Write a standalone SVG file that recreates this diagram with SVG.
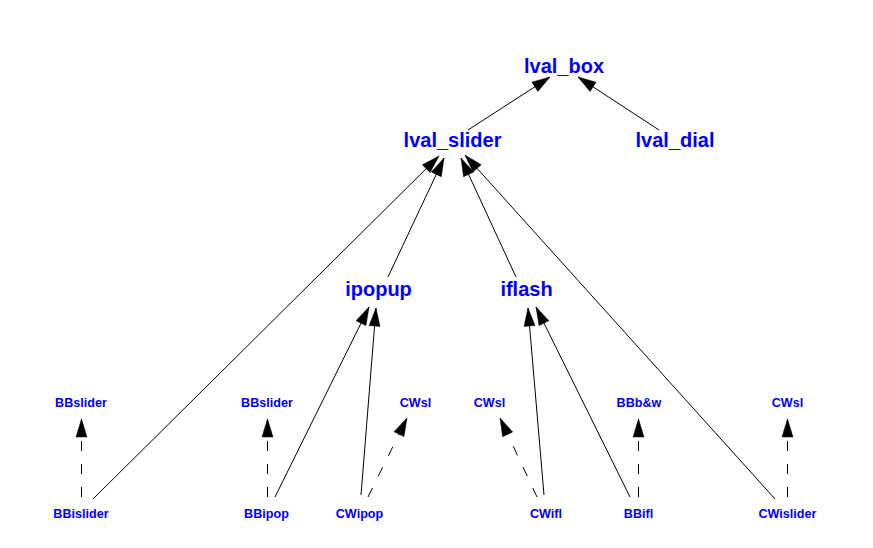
<svg xmlns="http://www.w3.org/2000/svg" width="873" height="548" viewBox="0 0 873 548">
<defs>
<marker id="ah" markerUnits="userSpaceOnUse" markerWidth="20" markerHeight="12" refX="18" refY="5.5" orient="auto" overflow="visible">
<path d="M0,0 L18,5.5 L0,11 z" fill="#000" stroke="#000" stroke-width="0.5"/>
</marker>
<style>
.e{stroke:#000;stroke-width:1;fill:none;marker-end:url(#ah)}
.d{stroke-dasharray:10,13}
.big{font-family:"Liberation Sans",Arial,sans-serif;font-weight:bold;font-size:20px;fill:#0000ff;text-anchor:middle}
.sm{font-family:"Liberation Sans",Arial,sans-serif;font-weight:bold;font-size:12.6px;fill:#0000ff;text-anchor:middle}
</style>
</defs>
<rect width="873" height="548" fill="#fff"/>
<g id="edges">
<line class="e" x1="468" y1="130" x2="550" y2="77"/>
<line class="e" x1="659" y1="130" x2="578" y2="77"/>
<line class="e" x1="93" y1="499" x2="439" y2="156"/>
<line class="e" x1="388" y1="277" x2="444" y2="158"/>
<line class="e" x1="516" y1="277" x2="461" y2="158"/>
<line class="e" x1="775" y1="499" x2="465" y2="155"/>
<line class="e" x1="275" y1="497" x2="369" y2="307"/>
<line class="e" x1="361" y1="495" x2="376" y2="308"/>
<line class="e" x1="544" y1="495" x2="528" y2="308"/>
<line class="e" x1="630" y1="497" x2="536" y2="307"/>
<line class="e d" x1="81.5" y1="497" x2="81.5" y2="419"/>
<line class="e d" x1="267.5" y1="497" x2="267.5" y2="419"/>
<line class="e d" x1="368" y1="497" x2="407" y2="418"/>
<line class="e d" x1="537" y1="497" x2="500" y2="418"/>
<line class="e d" x1="638.5" y1="497" x2="638.5" y2="419"/>
<line class="e d" x1="787.5" y1="497" x2="787.5" y2="419"/>
</g>
<g id="lval_box"><text class="big" x="564" y="73">lval_box</text></g>
<g id="lval_slider"><text class="big" x="452.5" y="147">lval_slider</text></g>
<g id="lval_dial"><text class="big" x="675" y="147">lval_dial</text></g>
<g id="ipopup"><text class="big" x="378.5" y="296">ipopup</text></g>
<g id="iflash"><text class="big" x="526.5" y="296">iflash</text></g>
<g id="BBslider1"><text class="sm" x="81" y="407">BBslider</text></g>
<g id="BBslider2"><text class="sm" x="267" y="407">BBslider</text></g>
<g id="CWsl1"><text class="sm" x="415.5" y="407">CWsl</text></g>
<g id="CWsl2"><text class="sm" x="489.5" y="407">CWsl</text></g>
<g id="BBbw"><text class="sm" x="639" y="407">BBb&amp;w</text></g>
<g id="CWsl3"><text class="sm" x="787.5" y="407">CWsl</text></g>
<g id="BBislider"><text class="sm" x="81" y="518">BBislider</text></g>
<g id="BBipop"><text class="sm" x="266.5" y="518">BBipop</text></g>
<g id="CWipop"><text class="sm" x="359.5" y="518">CWipop</text></g>
<g id="CWifl"><text class="sm" x="546" y="518">CWifl</text></g>
<g id="BBifl"><text class="sm" x="638.5" y="518">BBifl</text></g>
<g id="CWislider"><text class="sm" x="787.5" y="518">CWislider</text></g>
</svg>
